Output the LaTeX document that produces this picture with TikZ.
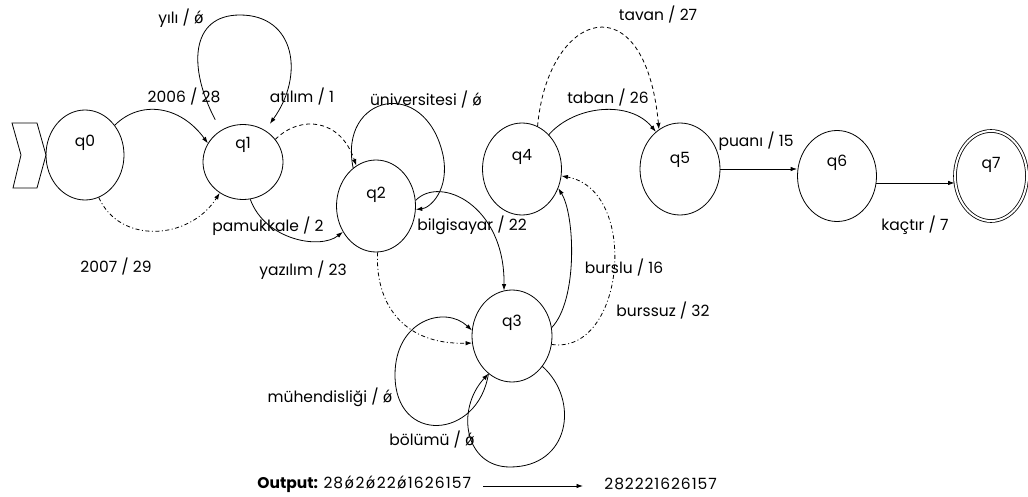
\documentclass[tikz,border=0pt]{standalone}
\usepackage{fontspec}
\setmainfont{Poppins}
\newfontfamily\dvsfont{DejaVu Sans}
\usetikzlibrary{shapes.geometric,arrows.meta}
\newcommand{\labfont}{\fontsize{15.5}{18}\selectfont}
\newcommand{\myoo}{{\dvsfont ǿ}}
\newcommand{\myoosp}{\kern1.4pt{\dvsfont ǿ}\kern1.4pt}
\begin{document}
\begin{tikzpicture}[x=1pt,y=-1pt,
  line width=0.8pt,
  st/.style n args={2}{draw, ellipse, inner sep=0pt, minimum width=#1, minimum height=#2},
  lab/.style={font=\labfont, inner sep=0pt},
  ar/.style={-{Latex[length=6.5pt,width=4.5pt]}},
  dsh/.style={dash pattern=on 4pt off 3pt},
  dd/.style={dash pattern=on 4pt off 2.5pt on 1pt off 2.5pt}]
\useasboundingbox (0,0) rectangle (1028,497);
% start marker
\draw (12,123) -- (37,123) -- (46,155) -- (37,188) -- (13,188) -- (21,155) -- cycle;
% states
\node[st={78}{90},  label={[name=t0,lab,yshift=12pt]center:q0}] (q0) at (85,155) {};
\node[st={80}{75},  label={[name=t1,lab,yshift=17pt]center:q1}] (q1) at (243,162) {};
\node[st={79}{92},  label={[name=t2,lab,yshift=11pt]center:q2}] (q2) at (376,206) {};
\node[st={80}{92},  label={[name=t3,lab,yshift=13pt]center:q3}] (q3) at (512,336) {};
\node[st={79}{92},  label={[name=t4,lab,yshift=12pt]center:q4}] (q4) at (522,169) {};
\node[st={80}{92},  label={[name=t5,lab,yshift=9pt]center:q5}] (q5) at (680,169) {};
\node[st={79}{91},  label={[name=t6,lab,yshift=13pt]center:q6}] (q6) at (837,176) {};
\node[st={72}{90}, double, double distance=2pt, label={[name=t7,lab,yshift=11pt]center:q7}] (q7) at (991,176) {};
% edges
\draw[ar] (q0.45) .. controls (140,100) and (180,105) .. (q1.152);
\draw[ar,dd] (q0.-72) .. controls (120,245) and (190,240) .. (q1.-127);
\draw[ar, shorten <=12pt, shorten >=8pt] (q1.125) .. controls (188,68) and (190,15) .. (240,15) .. controls (295,15) and (305,75) .. (q1.55);
\draw[ar,dsh] (q1.35) .. controls (300,115) and (340,118) .. (q2.116);
\draw[ar] (q1.-79) .. controls (265,240) and (320,250) .. (q2.-142);
\draw[ar] (q2.121) .. controls (338,95) and (425,75) .. (443,155) .. controls (450,190) and (430,208) .. (q2.-5);
\draw[ar] (q2.8) .. controls (440,175) and (505,205) .. (q3.100);
\draw[ar,dd] (q2.-88) .. controls (375,300) and (400,345) .. (q3.-170);
\draw[ar] (q3.-122) .. controls (478,440) and (395,445) .. (395,375) .. controls (395,320) and (445,305) .. (q3.172);
\draw[ar] (q3.-45) .. controls (580,400) and (570,467) .. (510,467) .. controls (465,467) and (455,410) .. (q3.-122);
\draw[ar] (q3.12) .. controls (578,300) and (575,215) .. (q4.-28);
\draw[ar,dd] (q3.-12) .. controls (625,355) and (640,190) .. (q4.-10);
\draw[ar] (q4.52) .. controls (575,105) and (630,100) .. (q5.123);
\draw[ar,dsh] (q4.70) .. controls (548,10) and (645,-20) .. (q5.118);
\draw[ar] (q5.east) -- (q5.east -| q6.west);
\draw[ar] (q6.-10) -- (q6.-10 -| q7.west);
% labels
\node[lab] (l1) at (181,18) {yılı / \myoo};
\node[lab] (l2) at (184,97) {2006 / 28};
\node[lab] (l3) at (302,97) {atılım / 1};
\node[lab] (l4) at (268,226) {pamukkale / 2};
\node[lab] (l5) at (116,267) {2007 / 29};
\node[lab] (l6) at (303,270) {yazılım / 23};
\node[lab] (l7) at (426,100) {üniversitesi / \myoo};
\node[lab] (l8) at (472,225) {bilgisayar / 22};
\node[lab] (l9) at (608,98) {taban / 26};
\node[lab] (l10) at (658,15) {tavan / 27};
\node[lab] (l11) at (756,141) {puanı / 15};
\node[lab] (l12) at (915,225) {kaçtır / 7};
\node[lab] (l13) at (624,268) {burslu / 16};
\node[lab] (l14) at (663,311) {burssuz / 32};
\node[lab] (l15) at (330,397) {mühendisliği / \myoo};
\node[lab] (l16) at (432,440) {bölümü / \myoo};
% output line
\node[lab, anchor=west] (o1) at (257,484) {\textbf{Output:} {\addfontfeatures{LetterSpace=7}28\myoosp2\myoosp22\myoosp1626157}};
\node[lab, anchor=west] (o2) at (604,484) {\addfontfeatures{LetterSpace=6}282221626157};
\coordinate (a1) at (483,486);
\coordinate (a2) at (583,486);
\draw[ar] (a1) -- (a2);
\end{tikzpicture}
\end{document}
